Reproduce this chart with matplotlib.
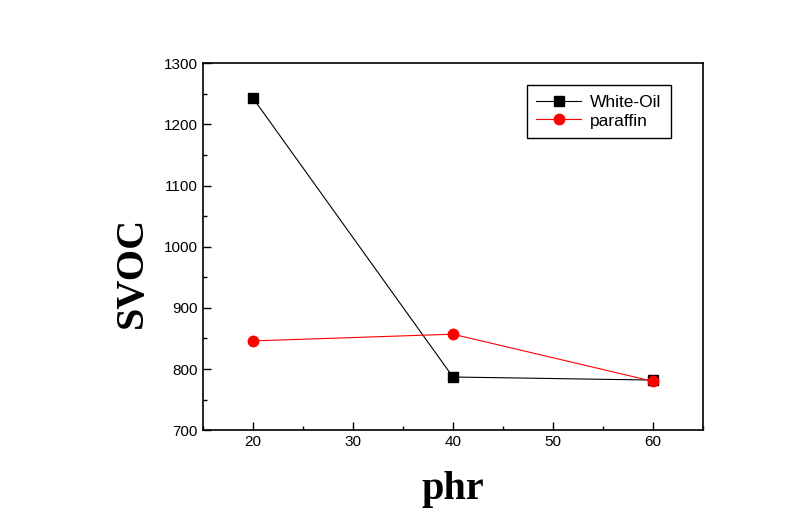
import matplotlib
matplotlib.use("Agg")
from matplotlib import pyplot as plt
from matplotlib.ticker import MultipleLocator

phr = [20, 40, 60]
white_oil = [1243, 787, 782]
paraffin = [846, 857, 780]

plt.rcParams["font.family"] = "Liberation Sans"

fig = plt.figure(figsize=(7.96, 5.14), dpi=100)
ax = fig.add_axes([0.255, 0.163, 0.628, 0.714])

ax.plot(phr, white_oil, color="black", marker="s", markersize=7, linewidth=0.8, label="White-Oil")
ax.plot(phr, paraffin, color="red", marker="o", markersize=7.5, linewidth=0.8, label="paraffin")

ax.set_xlim(15, 65)
ax.set_ylim(700, 1300)
ax.xaxis.set_major_locator(MultipleLocator(10))
ax.xaxis.set_minor_locator(MultipleLocator(5))
ax.yaxis.set_major_locator(MultipleLocator(100))
ax.yaxis.set_minor_locator(MultipleLocator(50))
ax.tick_params(which="both", direction="in", top=False, right=False, labelsize=11, width=1)
ax.tick_params(which="major", length=6)
ax.tick_params(which="minor", length=3)
for s in ax.spines.values():
    s.set_linewidth(1.2)

ax.set_xlabel("phr", fontfamily="Liberation Serif", fontweight="bold", fontsize=29, labelpad=16)
ax.set_ylabel("SVOC", fontfamily="Liberation Serif", fontweight="bold", fontsize=29)
ax.yaxis.set_label_coords(-0.104, 0.431)

leg = ax.legend(loc="upper right", bbox_to_anchor=(0.936, 0.940), borderaxespad=0, fancybox=False,
                framealpha=1, edgecolor="black", fontsize=12.5, handlelength=2.6, borderpad=0.55,
                labelspacing=0.2, handletextpad=0.5)
leg.get_frame().set_linewidth(1.0)

plt.savefig("out.png", dpi=100)
